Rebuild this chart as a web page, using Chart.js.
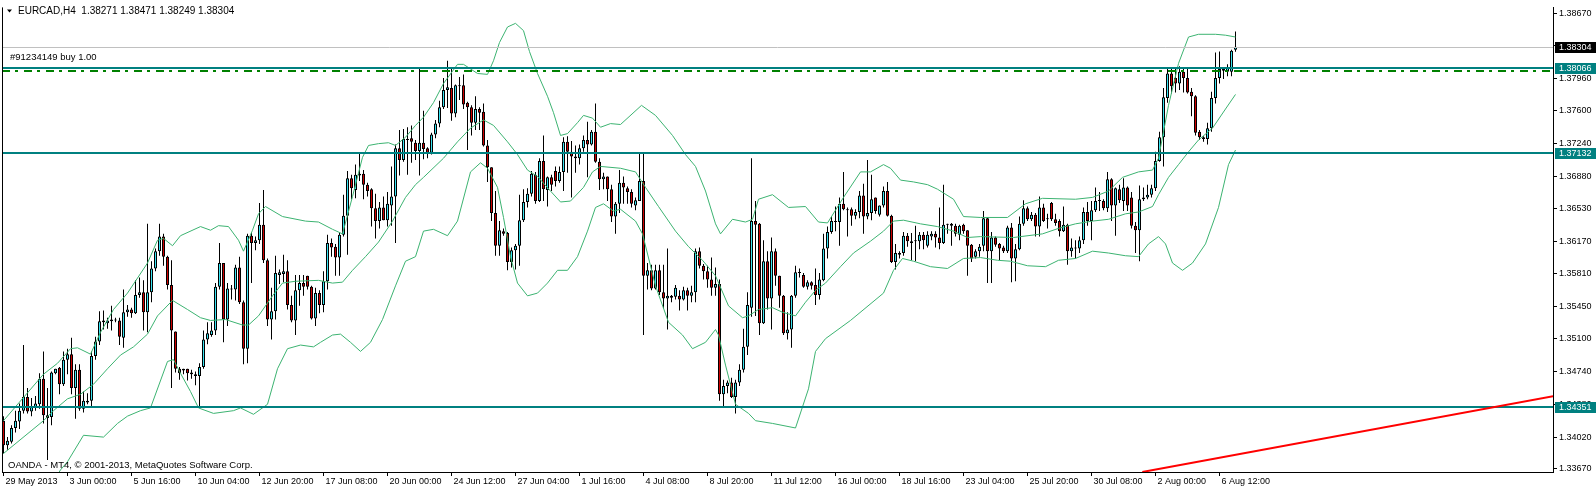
<!DOCTYPE html>
<html>
<head>
<meta charset="utf-8">
<script src="https://cdn.jsdelivr.net/npm/chart.js@4"></script>
<style>
html, body { margin: 0; padding: 0; background: #fff; }
#wrap { width: 1596px; height: 490px; position: relative; }
</style>
</head>
<body>
<div id="wrap"><canvas id="chart"></canvas></div>
<script>
// EURCAD H4 candles, bar 0 = 29 May 2013
const openPx = [
 1.3420,1.3393,1.3397,1.3412,1.3419,1.3431,1.3446,1.3430,1.3435,1.3438,
 1.3466,1.3426,1.3424,1.3472,1.3478,1.3460,1.3487,1.3493,1.3456,1.3476,
 1.3433,1.3440,1.3442,1.3491,1.3507,1.3528,1.3527,1.3529,1.3531,1.3530,
 1.3511,1.3539,1.3542,1.3538,1.3558,1.3561,1.3539,1.3561,1.3587,1.3606,
 1.3622,1.3600,1.3569,1.3518,1.3477,1.3477,1.3477,1.3473,1.3471,1.3469,
 1.3479,1.3509,1.3514,1.3519,1.3567,1.3593,1.3531,1.3565,1.3564,1.3588,
 1.3550,1.3499,1.3623,1.3615,1.3618,1.3635,1.3596,1.3531,1.3540,1.3580,
 1.3581,1.3584,1.3547,1.3530,1.3563,1.3571,1.3579,1.3567,1.3532,1.3560,
 1.3547,1.3573,1.3615,1.3611,1.3599,1.3624,1.3645,1.3686,1.3673,1.3691,
 1.3691,1.3679,1.3674,1.3653,1.3639,1.3654,1.3640,1.3656,1.3666,1.3719,
 1.3706,1.3729,1.3730,1.3725,1.3716,1.3725,1.3719,1.3714,1.3734,1.3746,
 1.3764,1.3783,1.3785,1.3757,1.3788,1.3788,1.3769,1.3764,1.3747,1.3762,
 1.3759,1.3722,1.3698,1.3648,1.3612,1.3628,1.3626,1.3594,1.3607,1.3612,
 1.3640,1.3660,1.3669,1.3690,1.3661,1.3705,1.3673,1.3687,1.3694,1.3683,
 1.3693,1.3726,1.3715,1.3710,1.3708,1.3719,1.3728,1.3723,1.3737,1.3704,
 1.3685,1.3688,1.3674,1.3644,1.3658,1.3681,1.3675,1.3671,1.3656,1.3661,
 1.3683,1.3579,1.3585,1.3565,1.3585,1.3561,1.3554,1.3557,1.3556,1.3557,
 1.3553,1.3563,1.3557,1.3561,1.3606,1.3590,1.3584,1.3575,1.3566,1.3570,
 1.3449,1.3458,1.3462,1.3446,1.3462,1.3476,1.3501,1.3544,1.3639,1.3636,
 1.3527,1.3595,1.3554,1.3606,1.3579,1.3557,1.3516,1.3520,1.3557,1.3583,
 1.3580,1.3567,1.3572,1.3569,1.3558,1.3574,1.3609,1.3627,1.3638,1.3638,
 1.3658,1.3652,1.3652,1.3645,1.3649,1.3667,1.3644,1.3648,1.3665,1.3646,
 1.3656,1.3672,1.3645,1.3594,1.3604,1.3604,1.3623,1.3617,1.3617,1.3617,
 1.3624,1.3612,1.3622,1.3625,1.3621,1.3615,1.3635,1.3636,1.3634,1.3624,
 1.3635,1.3629,1.3613,1.3600,1.3606,1.3612,1.3642,1.3606,1.3621,1.3614,
 1.3610,1.3606,1.3632,1.3598,1.3608,1.3636,1.3653,1.3641,1.3646,1.3633,
 1.3654,1.3641,1.3659,1.3641,1.3639,1.3628,1.3635,1.3606,1.3609,1.3609,
 1.3618,1.3649,1.3639,1.3651,1.3661,1.3661,1.3653,1.3685,1.3656,1.3674,
 1.3661,1.3676,1.3665,1.3634,1.3629,1.3663,1.3665,1.3668,1.3675,1.3705,
 1.3731,1.3774,1.3801,1.3796,1.3790,1.3803,1.3796,1.3781,1.3776,1.3737,
 1.3731,1.3729,1.3741,1.3774,1.3796,1.3806,1.3803,1.3803,1.38271
];
const highPx = [
 1.3425,1.3402,1.3415,1.3431,1.3439,1.3503,1.3456,1.3445,1.3447,1.3472,
 1.3496,1.3456,1.3474,1.3477,1.3479,1.3496,1.3499,1.3511,1.3482,1.3482,
 1.3452,1.3450,1.3496,1.3512,1.3540,1.3541,1.3533,1.3546,1.3533,1.3533,
 1.3564,1.3547,1.3544,1.3574,1.3577,1.3574,1.3636,1.3595,1.3609,1.3636,
 1.3625,1.3601,1.3596,1.3518,1.3479,1.3477,1.3477,1.3476,1.3474,1.3483,
 1.3519,1.3528,1.3528,1.3571,1.3615,1.3593,1.3571,1.3569,1.3591,1.3600,
 1.3552,1.3625,1.3627,1.3622,1.3659,1.3673,1.3598,1.3566,1.3601,1.3586,
 1.3602,1.3596,1.3557,1.3580,1.3580,1.3580,1.3579,1.3568,1.3566,1.3563,
 1.3584,1.3624,1.3620,1.3614,1.3627,1.3668,1.3694,1.3690,1.3701,1.3713,
 1.3695,1.3681,1.3675,1.3669,1.3660,1.3666,1.3671,1.3699,1.3723,1.3739,
 1.3740,1.3742,1.3744,1.3728,1.3806,1.3760,1.3720,1.3736,1.3750,1.3771,
 1.3796,1.3815,1.3807,1.3789,1.3797,1.3800,1.3770,1.3766,1.3776,1.3764,
 1.3768,1.3728,1.3698,1.3672,1.3639,1.3631,1.3627,1.3610,1.3614,1.3668,
 1.3674,1.3675,1.3694,1.3693,1.3708,1.3733,1.3688,1.3690,1.3699,1.3699,
 1.3731,1.3732,1.3727,1.3722,1.3723,1.3733,1.3748,1.3739,1.3768,1.3708,
 1.3692,1.3688,1.3679,1.3660,1.3695,1.3688,1.3677,1.3674,1.3665,1.3713,
 1.3713,1.3593,1.3591,1.3591,1.3591,1.3591,1.3609,1.3558,1.3569,1.3563,
 1.3567,1.3566,1.3568,1.3609,1.3610,1.3592,1.3590,1.3599,1.3588,1.3575,
 1.3465,1.3464,1.3467,1.3465,1.3482,1.3521,1.3561,1.3708,1.3661,1.3637,
 1.3618,1.3606,1.3621,1.3609,1.3579,1.3558,1.3539,1.3558,1.3590,1.3587,
 1.3582,1.3574,1.3573,1.3587,1.3582,1.3625,1.3633,1.3644,1.3655,1.3665,
 1.3693,1.3654,1.3654,1.3652,1.3672,1.3680,1.3706,1.3690,1.3665,1.3656,
 1.3677,1.3682,1.3646,1.3614,1.3606,1.3627,1.3626,1.3626,1.3634,1.3627,
 1.3627,1.3628,1.3628,1.3628,1.3654,1.3679,1.3636,1.3637,1.3636,1.3635,
 1.3636,1.3629,1.3614,1.3608,1.3614,1.3650,1.3643,1.3627,1.3622,1.3615,
 1.3612,1.3634,1.3637,1.3614,1.3644,1.3662,1.3655,1.3649,1.3648,1.3666,
 1.3658,1.3647,1.3660,1.3647,1.3641,1.3655,1.3636,1.3620,1.3618,1.3622,
 1.3654,1.3660,1.3661,1.3676,1.3671,1.3663,1.3693,1.3686,1.3676,1.3679,
 1.3686,1.3677,1.3671,1.3638,1.3678,1.3676,1.3679,1.3679,1.3715,1.3737,
 1.3785,1.3806,1.3806,1.3806,1.3809,1.3807,1.3806,1.3785,1.3777,1.3739,
 1.3732,1.3747,1.3781,1.3824,1.3825,1.3808,1.3811,1.3827,1.38471
];
const lowPx = [
 1.3384,1.3388,1.3395,1.3407,1.3411,1.3428,1.3428,1.3425,1.3431,1.3433,
 1.3417,1.3377,1.3415,1.3471,1.3449,1.3458,1.3471,1.3449,1.3422,1.3431,
 1.3429,1.3438,1.3435,1.3487,1.3503,1.3520,1.3521,1.3519,1.3528,1.3503,
 1.3500,1.3534,1.3533,1.3537,1.3555,1.3519,1.3517,1.3550,1.3584,1.3601,
 1.3590,1.3564,1.3456,1.3473,1.3465,1.3471,1.3464,1.3466,1.3459,1.3434,
 1.3477,1.3504,1.3512,1.3514,1.3564,1.3506,1.3524,1.3553,1.3552,1.3548,
 1.3482,1.3483,1.3571,1.3607,1.3614,1.3593,1.3524,1.3509,1.3531,1.3570,
 1.3572,1.3542,1.3528,1.3514,1.3546,1.3557,1.3564,1.3531,1.3524,1.3538,
 1.3539,1.3564,1.3600,1.3579,1.3579,1.3622,1.3602,1.3663,1.3664,1.3683,
 1.3663,1.3666,1.3633,1.3620,1.3631,1.3640,1.3633,1.3634,1.3615,1.3689,
 1.3704,1.3690,1.3703,1.3706,1.3689,1.3707,1.3708,1.3712,1.3730,1.3742,
 1.3762,1.3763,1.3749,1.3753,1.3772,1.3762,1.3717,1.3733,1.3739,1.3739,
 1.3721,1.3682,1.3639,1.3601,1.3601,1.3623,1.3585,1.3588,1.3586,1.3590,
 1.3638,1.3654,1.3666,1.3658,1.3660,1.3661,1.3655,1.3672,1.3677,1.3681,
 1.3672,1.3692,1.3665,1.3692,1.3701,1.3715,1.3687,1.3722,1.3703,1.3673,
 1.3674,1.3661,1.3638,1.3625,1.3648,1.3658,1.3658,1.3654,1.3651,1.3661,
 1.3514,1.3564,1.3563,1.3564,1.3558,1.3543,1.3520,1.3550,1.3553,1.3541,
 1.3552,1.3541,1.3550,1.3550,1.3587,1.3575,1.3566,1.3557,1.3557,1.3442,
 1.3434,1.3450,1.3445,1.3428,1.3458,1.3473,1.3492,1.3534,1.3535,1.3514,
 1.3526,1.3542,1.3520,1.3568,1.3544,1.3514,1.3509,1.3500,1.3555,1.3577,
 1.3566,1.3564,1.3564,1.3547,1.3553,1.3573,1.3598,1.3625,1.3628,1.3612,
 1.3651,1.3622,1.3634,1.3641,1.3642,1.3625,1.3641,1.3640,1.3647,1.3644,
 1.3654,1.3644,1.3593,1.3586,1.3598,1.3601,1.3611,1.3596,1.3595,1.3608,
 1.3608,1.3610,1.3618,1.3610,1.3608,1.3614,1.3625,1.3612,1.3622,1.3618,
 1.3625,1.3579,1.3594,1.3598,1.3600,1.3606,1.3571,1.3571,1.3611,1.3596,
 1.3604,1.3604,1.3572,1.3573,1.3607,1.3634,1.3639,1.3639,1.3622,1.3622,
 1.3638,1.3631,1.3639,1.3634,1.3622,1.3627,1.3591,1.3600,1.3598,1.3604,
 1.3614,1.3634,1.3618,1.3649,1.3650,1.3651,1.3649,1.3639,1.3623,1.3659,
 1.3650,1.3650,1.3631,1.3604,1.3595,1.3661,1.3663,1.3665,1.3672,1.3704,
 1.3699,1.3769,1.3779,1.3780,1.3783,1.3780,1.3779,1.3754,1.3733,1.3728,
 1.3726,1.3723,1.3737,1.3768,1.3790,1.3795,1.3798,1.3798,1.38249
];
const closePx = [
 1.3393,1.3398,1.3412,1.3420,1.3431,1.3446,1.3430,1.3436,1.3439,1.3466,
 1.3426,1.3423,1.3473,1.3477,1.3460,1.3487,1.3493,1.3456,1.3476,1.3433,
 1.3442,1.3442,1.3491,1.3507,1.3529,1.3530,1.3530,1.3531,1.3530,1.3512,
 1.3539,1.3542,1.3538,1.3558,1.3561,1.3539,1.3561,1.3587,1.3606,1.3622,
 1.3600,1.3569,1.3519,1.3477,1.3472,1.3475,1.3472,1.3471,1.3469,1.3479,
 1.3509,1.3516,1.3519,1.3567,1.3593,1.3531,1.3565,1.3564,1.3588,1.3550,
 1.3499,1.3623,1.3615,1.3618,1.3635,1.3596,1.3531,1.3540,1.3582,1.3583,
 1.3584,1.3547,1.3530,1.3563,1.3571,1.3567,1.3567,1.3532,1.3560,1.3547,
 1.3573,1.3615,1.3610,1.3599,1.3624,1.3645,1.3686,1.3675,1.3690,1.3689,
 1.3679,1.3672,1.3653,1.3639,1.3654,1.3640,1.3658,1.3666,1.3719,1.3706,
 1.3729,1.3728,1.3726,1.3716,1.3725,1.3718,1.3713,1.3734,1.3746,1.3764,
 1.3783,1.3786,1.3757,1.3788,1.3787,1.3767,1.3764,1.3747,1.3762,1.3758,
 1.3722,1.3698,1.3648,1.3612,1.3629,1.3625,1.3594,1.3607,1.3612,1.3640,
 1.3660,1.3669,1.3691,1.3661,1.3705,1.3674,1.3687,1.3679,1.3683,1.3693,
 1.3726,1.3715,1.3710,1.3708,1.3719,1.3728,1.3723,1.3737,1.3704,1.3685,
 1.3688,1.3674,1.3644,1.3658,1.3681,1.3676,1.3671,1.3658,1.3662,1.3683,
 1.3579,1.3585,1.3565,1.3585,1.3561,1.3554,1.3557,1.3555,1.3566,1.3553,
 1.3563,1.3557,1.3561,1.3606,1.3590,1.3584,1.3575,1.3566,1.3570,1.3449,
 1.3458,1.3462,1.3446,1.3462,1.3476,1.3501,1.3547,1.3639,1.3635,1.3527,
 1.3595,1.3554,1.3606,1.3579,1.3557,1.3516,1.3520,1.3557,1.3583,1.3582,
 1.3567,1.3572,1.3568,1.3558,1.3575,1.3609,1.3627,1.3639,1.3639,1.3658,
 1.3652,1.3651,1.3645,1.3649,1.3667,1.3644,1.3648,1.3663,1.3650,1.3656,
 1.3672,1.3645,1.3594,1.3604,1.3602,1.3623,1.3617,1.3615,1.3617,1.3624,
 1.3618,1.3624,1.3625,1.3621,1.3615,1.3635,1.3635,1.3634,1.3625,1.3634,
 1.3628,1.3612,1.3598,1.3606,1.3611,1.3642,1.3606,1.3621,1.3613,1.3609,
 1.3606,1.3632,1.3598,1.3608,1.3636,1.3653,1.3641,1.3646,1.3633,1.3654,
 1.3639,1.3641,1.3641,1.3637,1.3628,1.3635,1.3606,1.3610,1.3610,1.3618,
 1.3649,1.3639,1.3651,1.3661,1.3662,1.3653,1.3685,1.3656,1.3675,1.3662,
 1.3676,1.3656,1.3634,1.3629,1.3663,1.3665,1.3668,1.3675,1.3705,1.3731,
 1.3775,1.3801,1.3787,1.3790,1.3803,1.3796,1.3780,1.3776,1.3736,1.3731,
 1.3729,1.3741,1.3774,1.3796,1.3806,1.3804,1.3808,1.3826,1.38304
];

// Bollinger bands, [bar, price] points
const bbUpper = [
 [0,1.3420],[10,1.3471],[13.5,1.3483],[16.75,1.3499],[18.5,1.3500],[21.75,1.3493],[24.25,1.3517],[27.5,1.3542],
 [31,1.3560],[36,1.3593],[38.5,1.3618],[40,1.3620],[42.25,1.3612],[44.25,1.3623],[49.25,1.3633],[51.75,1.3629],
 [53.75,1.3634],[56.25,1.3633],[58.75,1.3618],[60,1.3606],[62.25,1.3629],[63.75,1.3647],[65.5,1.3655],[69.75,1.3644],
 [75.5,1.3639],[78.75,1.3638],[82.25,1.3630],[84.75,1.3625],[87.25,1.3666],[89.75,1.3709],[91.25,1.3722],[93.75,1.3724],
 [96.25,1.3725],[98,1.3722],[100.5,1.3731],[103,1.3744],[105,1.3753],[107.5,1.3769],[110,1.3790],[113.5,1.3811],
 [115,1.3811],[118.5,1.3801],[121,1.3800],[122.5,1.3815],[124,1.3835],[126,1.3852],[128,1.3856],[130,1.3848],
 [131.5,1.3825],[133.5,1.3801],[136,1.3776],[137.5,1.3758],[139.25,1.3733],[141,1.3735],[143.5,1.3747],[145,1.3755],
 [147.25,1.3752],[149.25,1.3742],[151.75,1.3746],[154.25,1.3745],[159.5,1.3766],[163,1.3755],[167.25,1.3733],[170.5,1.3712],
 [173,1.3699],[175.5,1.3672],[178,1.3636],[179.25,1.3625],[182.25,1.3641],[185.5,1.3638],[187.25,1.3641],[188.75,1.3663],
 [192.25,1.3668],[196.25,1.3654],[200.5,1.3655],[203.75,1.3638],[206,1.3637],[210,1.3665],[214.25,1.3693],[216.75,1.3693],
 [220,1.3701],[221.75,1.3697],[224.25,1.3684],[227.5,1.3682],[231,1.3679],[233.5,1.3674],[237.5,1.3663],[240,1.3644],
 [244.25,1.3643],[251,1.3643],[255.5,1.3658],[259.75,1.3664],[268,1.3663],[272.25,1.3665],[276.25,1.3672],[279.75,1.3687],
 [283.75,1.3693],[287.25,1.3695],[288.75,1.3708],[291.25,1.3766],[293.75,1.3812],[296.25,1.3841],[298.75,1.3844],[303,1.3844],
 [305.5,1.3843],[308,1.3841]
];
const bbMiddle = [
 [0,1.3384],[10,1.3420],[12.5,1.3431],[16,1.3444],[19.25,1.3449],[22.5,1.3460],[26,1.3477],[29.25,1.3492],
 [32.5,1.3501],[36,1.3515],[38.5,1.3535],[42.25,1.3552],[46,1.3542],[49.25,1.3533],[51.75,1.3530],[55.5,1.3531],
 [59.75,1.3525],[61.25,1.3525],[63.75,1.3535],[67.25,1.3557],[69.75,1.3571],[73,1.3573],[78.75,1.3574],[82.25,1.3571],
 [84.75,1.3572],[87.25,1.3585],[90.5,1.3600],[93.75,1.3616],[97.25,1.3639],[100.5,1.3665],[103,1.3679],[105,1.3687],
 [110,1.3708],[113.5,1.3726],[116.75,1.3741],[120,1.3750],[122.5,1.3744],[126,1.3726],[128.5,1.3712],[131,1.3695],
 [133.5,1.3688],[136.75,1.3672],[139.25,1.3660],[141.75,1.3661],[145,1.3676],[147.25,1.3693],[149.25,1.3699],[154.25,1.3697],
 [158,1.3693],[160.5,1.3676],[163.75,1.3655],[168,1.3628],[171.25,1.3611],[174.75,1.3596],[178,1.3579],[181.25,1.3546],
 [184.75,1.3533],[186.25,1.3535],[188.75,1.3542],[192.25,1.3544],[194.75,1.3539],[198,1.3535],[200.5,1.3550],[203,1.3563],
 [205.5,1.3571],[209.25,1.3589],[212.5,1.3604],[216.75,1.3617],[220,1.3628],[222.5,1.3639],[225,1.3640],[229.25,1.3636],
 [233.5,1.3633],[237.5,1.3628],[241,1.3621],[244.25,1.3622],[252.5,1.3621],[259.75,1.3625],[263.75,1.3631],[268,1.3636],
 [272.25,1.3639],[276.25,1.3641],[280.5,1.3647],[283.75,1.3649],[287.25,1.3655],[288.75,1.3668],[291.25,1.3687],[293.75,1.3701],
 [296.25,1.3715],[298.75,1.3728],[302.25,1.3741],[305.5,1.3762],[308,1.3778]
];
const bbLower = [
 [0,1.3285],[6.75,1.3312],[14.25,1.3366],[16,1.3375],[20,1.3404],[25,1.3402],[28.5,1.3417],[31,1.3425],
 [34.25,1.3431],[36.75,1.3434],[41,1.3485],[42.5,1.3487],[44.25,1.3472],[46.75,1.3452],[48.75,1.3434],[52.5,1.3428],
 [57.5,1.3431],[59.25,1.3434],[62.5,1.3427],[66,1.3438],[68.5,1.3477],[71,1.3499],[74.25,1.3503],[77.5,1.3501],
 [79.25,1.3506],[82.25,1.3514],[84.25,1.3515],[86.75,1.3506],[89.25,1.3496],[91.75,1.3506],[94.75,1.3531],[98,1.3568],
 [100.5,1.3595],[103,1.3600],[105,1.3628],[107.5,1.3630],[111,1.3623],[113.5,1.3639],[116.75,1.3693],[119.25,1.3703],
 [121,1.3697],[123.5,1.3676],[125,1.3643],[126.75,1.3600],[128.5,1.3571],[131,1.3557],[133.5,1.3560],[136,1.3571],
 [138.5,1.3585],[141,1.3585],[143.5,1.3600],[146,1.3628],[148,1.3654],[150,1.3658],[152.5,1.3650],[154.25,1.3652],
 [158,1.3639],[159.75,1.3625],[163,1.3568],[166.25,1.3528],[169.75,1.3514],[172.25,1.3499],[175.5,1.3506],[178,1.3520],
 [178.75,1.3514],[180.5,1.3481],[183,1.3438],[186.25,1.3428],[188,1.3420],[192.25,1.3417],[198,1.3412],[201.25,1.3455],
 [203,1.3496],[205.5,1.3510],[211.75,1.3530],[220,1.3560],[222.5,1.3585],[224.75,1.3598],[227.5,1.3595],[231.75,1.3589],
 [236,1.3587],[240,1.3598],[244.25,1.3599],[248.5,1.3596],[251.75,1.3595],[256,1.3590],[260.5,1.3589],[263.75,1.3596],
 [268,1.3598],[272.25,1.3606],[276.25,1.3604],[280.5,1.3601],[283.75,1.3600],[286.25,1.3614],[288.75,1.3622],[290.5,1.3614],
 [292.25,1.3593],[294.75,1.3585],[297.25,1.3593],[300.5,1.3614],[303.75,1.3654],[306.25,1.3701],[308,1.3717]
];

// price axis and time axis labels
const yTickValues = [1.38670,1.38320,1.37960,1.37600,1.37240,1.36880,1.36530,1.36170,1.35810,1.35450,1.35100,1.34740,1.34380,1.34020,1.33670];
const xTickBars = [0,16,32,48,64,80,96,112,128,144,160,176,192,208,224,240,256,272,288,304];
const xTickLabels = ['29 May 2013','3 Jun 00:00','5 Jun 16:00','10 Jun 04:00','12 Jun 20:00','17 Jun 08:00','20 Jun 00:00',
  '24 Jun 12:00','27 Jun 04:00','1 Jul 16:00','4 Jul 08:00','8 Jul 20:00','11 Jul 12:00','16 Jul 00:00','18 Jul 16:00',
  '23 Jul 04:00','25 Jul 20:00','30 Jul 08:00','2 Aug 00:00','6 Aug 12:00'];

// objects on the chart
const bidPrice = 1.38304;
const levelPrices = [1.38066, 1.37132, 1.34351];
const orderPrice = 1.38042;
const trendBars = [284.7, 387.4];
const trendPrices = [1.33637, 1.34469];

const BULL = '#38E4F2';
const BEAR = '#CC0000';
const BAND = '#3CB371';
const TEAL = '#008080';
const FONT = '"Liberation Sans", Arial, sans-serif';

Chart.defaults.font.family = FONT;
Chart.defaults.font.size = 9;
Chart.defaults.color = '#000';

const bodyData = openPx.map((o, i) => ({ x: i, y: [o, closePx[i]] }));
const wickData = highPx.map((h, i) => ({ x: i, y: [lowPx[i], h] }));
const bodyColors = openPx.map((o, i) => (closePx[i] >= o ? BULL : BEAR));
const pts = arr => arr.map(p => ({ x: p[0], y: p[1] }));

function hline(ctx, x0, x1, y) {
  ctx.beginPath();
  ctx.moveTo(x0, y);
  ctx.lineTo(x1, y);
  ctx.stroke();
}

const overlay = {
  id: 'overlay',
  afterDatasetsDraw(chart) {
    const { ctx, chartArea: a, scales: { x, y } } = chart;
    ctx.save();
    ctx.beginPath();
    ctx.rect(a.left, a.top, a.right - a.left, a.bottom - a.top);
    ctx.clip();

    ctx.strokeStyle = '#C0C0C0';
    ctx.lineWidth = 1;
    hline(ctx, a.left, a.right, Math.round(y.getPixelForValue(bidPrice)) + 0.5);

    ctx.strokeStyle = '#008000';
    ctx.lineWidth = 2;
    ctx.setLineDash([8, 5, 3, 6]);
    hline(ctx, a.left, a.right, Math.round(y.getPixelForValue(orderPrice)));
    ctx.setLineDash([]);

    ctx.strokeStyle = TEAL;
    ctx.lineWidth = 2;
    levelPrices.forEach(p => hline(ctx, a.left, a.right, Math.round(y.getPixelForValue(p))));

    ctx.strokeStyle = '#FF0000';
    ctx.lineWidth = 2;
    ctx.beginPath();
    ctx.moveTo(x.getPixelForValue(trendBars[0]), y.getPixelForValue(trendPrices[0]));
    ctx.lineTo(x.getPixelForValue(trendBars[1]), y.getPixelForValue(trendPrices[1]));
    ctx.stroke();
    ctx.restore();
  },
  afterDraw(chart) {
    const { ctx, chartArea: a, scales: { y } } = chart;
    ctx.save();
    // left frame
    ctx.strokeStyle = '#000';
    ctx.lineWidth = 1;
    ctx.beginPath();
    ctx.moveTo(a.left + 0.5, a.top);
    ctx.lineTo(a.left + 0.5, a.bottom);
    ctx.stroke();

    // price boxes on the right scale
    const boxes = [[bidPrice, '#000']].concat(levelPrices.map(p => [p, TEAL]));
    ctx.font = '9px ' + FONT;
    ctx.textBaseline = 'middle';
    ctx.textAlign = 'left';
    boxes.forEach(([p, bg]) => {
      const py = Math.round(y.getPixelForValue(p));
      ctx.fillStyle = bg;
      ctx.fillRect(a.right + 2, py - 5, chart.width - a.right - 2, 11);
      ctx.fillStyle = '#fff';
      ctx.fillText(p.toFixed(5), a.right + 6, py + 0.5);
    });

    // texts
    ctx.fillStyle = '#000';
    ctx.textBaseline = 'alphabetic';
    ctx.beginPath();
    ctx.moveTo(7, 9.5);
    ctx.lineTo(12, 9.5);
    ctx.lineTo(9.5, 12.5);
    ctx.closePath();
    ctx.fill();
    ctx.font = '10px ' + FONT;
    ctx.fillText('EURCAD,H4  1.38271 1.38471 1.38249 1.38304', 18, 14);
    ctx.font = '9.5px ' + FONT;
    ctx.fillText('#91234149 buy 1.00', 10, 60);
    ctx.fillText('OANDA - MT4, \u00A9 2001-2013, MetaQuotes Software Corp.', 8, 468);
    ctx.restore();
  }
};

new Chart(document.getElementById('chart'), {
  type: 'bar',
  data: {
    datasets: [
      { type: 'bar', data: wickData, backgroundColor: '#000', barThickness: 1, grouped: false,
        inflateAmount: 0, order: 3 },
      { type: 'bar', data: bodyData, backgroundColor: bodyColors, borderColor: '#000', borderWidth: 1,
        borderSkipped: false, barThickness: 3, grouped: false, minBarLength: 1, inflateAmount: 0, order: 2 },
      { type: 'line', data: pts(bbUpper), borderColor: BAND, borderWidth: 1, pointRadius: 0, tension: 0, order: 1 },
      { type: 'line', data: pts(bbMiddle), borderColor: BAND, borderWidth: 1, pointRadius: 0, tension: 0, order: 1 },
      { type: 'line', data: pts(bbLower), borderColor: BAND, borderWidth: 1, pointRadius: 0, tension: 0, order: 1 }
    ]
  },
  options: {
    responsive: true,
    maintainAspectRatio: false,
    animation: false,
    events: [],
    layout: { padding: { left: 2, top: 0, right: 0, bottom: 0 } },
    plugins: { legend: { display: false }, tooltip: { enabled: false } },
    scales: {
      x: {
        type: 'linear',
        min: -0.375,
        max: 387.375,
        offset: false,
        afterBuildTicks: s => { s.ticks = xTickBars.map(v => ({ value: v })); },
        afterFit: s => { s.height = 18; },
        grid: { display: true, drawOnChartArea: false, drawTicks: true, tickLength: 4, color: '#000', offset: false },
        border: { display: true, color: '#000', width: 1 },
        ticks: {
          autoSkip: false, maxRotation: 0, minRotation: 0, align: 'start', padding: 0, labelOffset: 2,
          callback: (v, i) => xTickLabels[i]
        }
      },
      y: {
        position: 'right',
        min: 1.33637,
        max: 1.38735,
        afterBuildTicks: s => { s.ticks = yTickValues.map(v => ({ value: v })); },
        afterFit: s => { s.width = 43; },
        grid: { display: true, drawOnChartArea: false, drawTicks: true, tickLength: 4, color: '#000' },
        border: { display: true, color: '#000', width: 1 },
        ticks: { padding: 2, crossAlign: 'near', callback: v => v.toFixed(5) }
      }
    }
  },
  plugins: [overlay]
});
</script>
</body>
</html>
